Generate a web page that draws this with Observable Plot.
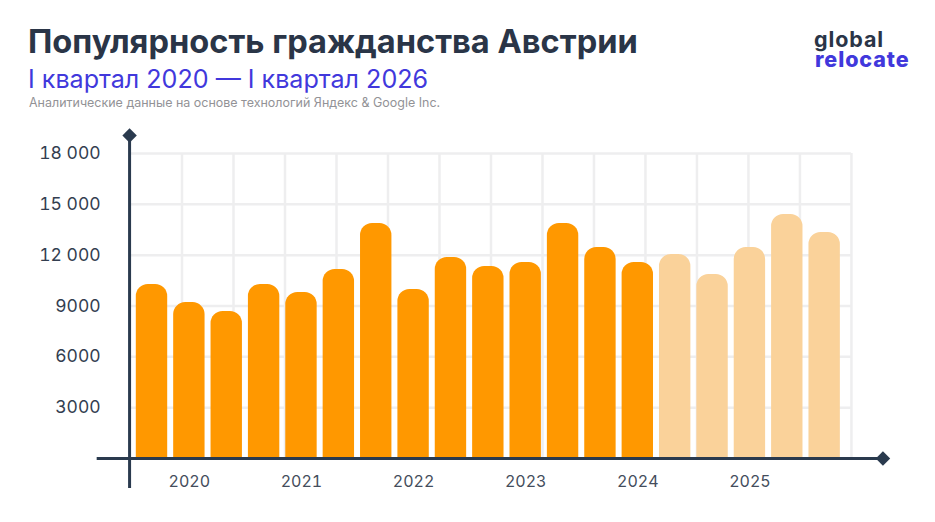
<!DOCTYPE html>
<html lang="ru">
<head>
<meta charset="utf-8">
<script src="https://cdn.jsdelivr.net/npm/d3@7"></script>
<script src="https://cdn.jsdelivr.net/npm/@observablehq/plot@0.6"></script>
<style>
html,body{margin:0;padding:0;background:#fff;}
body{width:935px;height:522px;overflow:hidden;font-family:Inter,"Noto Sans",sans-serif;position:relative;}
#head{position:relative;height:118px;}
#head div{position:absolute;white-space:nowrap;}
#t{left:28px;top:21px;font-size:32.6px;font-weight:700;color:#2a3547;line-height:40px;}
#s{left:28px;top:63px;font-size:25.1px;font-weight:400;color:#4138dc;line-height:32px;}
#c{left:29px;top:95px;font-size:12.48px;color:#929296;line-height:16px;}
#l1{left:814px;top:29px;font-size:21.5px;letter-spacing:.9px;font-weight:700;color:#2a3547;line-height:20px;}
#l2{left:815px;top:49px;font-size:21.5px;letter-spacing:.9px;font-weight:800;color:#4138dc;line-height:20px;}
svg{display:block;}
</style>
</head>
<body>
<div id="head">
<div id="t">Популярность гражданства Австрии</div>
<div id="s">I квартал 2020 — I квартал 2026</div>
<div id="c">Аналитические данные на основе технологий Яндекс &amp; Google Inc.</div>
<div id="l1">global</div>
<div id="l2">relocate</div>
</div>
<div id="chart"></div>
<script>
const values = [10270, 9200, 8680, 10270, 9800, 11150, 13870, 9970, 11860, 11330, 11570, 13870, 12450, 11570, 12040, 10860, 12450, 14400, 13340];
const faded = [14, 15, 16, 17, 18];
const yTicks = [3000, 6000, 9000, 12000, 15000, 18000];
const yLabels = ["3000", "6000", "9000", "12 000", "15 000", "18 000"];
const xTicks = [1, 4, 7, 10, 13, 16];
const xLabels = ["2020", "2021", "2022", "2023", "2024", "2025"];
const gridX = [0.803, 2.181, 3.559, 4.937, 6.315, 7.693, 9.071, 10.449, 11.827, 13.205, 14.583, 15.961, 17.339, 18.717];
const gridLeft = -0.575;
const axisX = -0.6;
const axisXEnd = [-1.467, 19.56];
const axisYEnd = [-1770, 19060];

const bars = values.map((v, i) => ({i, v, past: !faded.includes(i)}));
const dark = "#2a3a4e", grid = "#eeeeef";

const chart = Plot.plot({
  width: 935, height: 404,
  marginLeft: 114.13, marginRight: 73.47, marginTop: 35, marginBottom: 64,
  style: {fontFamily: "Inter, 'Noto Sans', sans-serif", background: "#fff", overflow: "visible"},
  x: {domain: [-1, 19], axis: null},
  y: {domain: [0, 18000], axis: null},
  marks: [
    Plot.ruleX(gridX, {y1: 0, y2: 18000, stroke: grid, strokeWidth: 2.5}),
    Plot.ruleY(yTicks, {x1: gridLeft, x2: gridX[gridX.length - 1], stroke: grid, strokeWidth: 2.5}),
    Plot.rectY(bars, {x1: d => d.i - 0.42, x2: d => d.i + 0.42, y1: 0, y2: "v",
      fill: d => d.past ? "#ff9800" : "#fad29a", ry2: 12}),
    Plot.ruleX([axisX], {y1: axisYEnd[0], y2: axisYEnd[1], stroke: dark, strokeWidth: 3}),
    Plot.ruleY([0], {x1: axisXEnd[0], x2: axisXEnd[1], stroke: dark, strokeWidth: 3}),
    Plot.dot([{x: axisX, y: axisYEnd[1]}, {x: axisXEnd[1], y: 0}], {x: "x", y: "y", symbol: "diamond2", r: 6.5, fill: dark, stroke: "none"}),
    Plot.axisY({ticks: yTicks, tickSize: 0, tickPadding: 14, fontSize: 17.5, color: "#333e50", tickFormat: d => yLabels[yTicks.indexOf(d)], label: null}),
    Plot.axisX({ticks: xTicks, tickSize: 0, tickPadding: 17, fontSize: 16, color: "#444d5c", tickFormat: d => xLabels[xTicks.indexOf(d)], label: null})
  ]
});
document.getElementById("chart").appendChild(chart);
</script>
</body>
</html>
